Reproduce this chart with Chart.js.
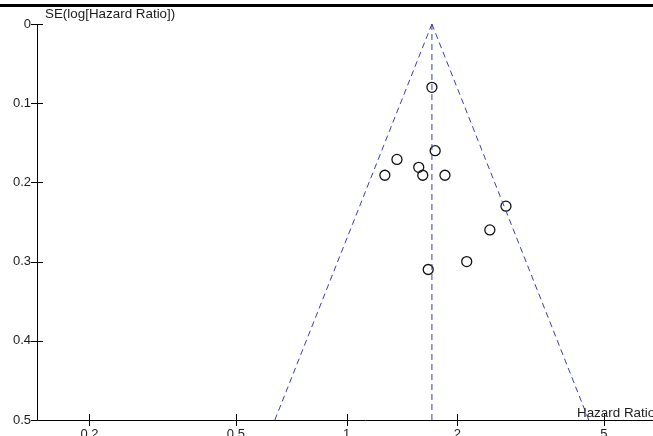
<!DOCTYPE html>
<html>
<head>
<meta charset="utf-8">
<script src="https://cdn.jsdelivr.net/npm/chart.js@4.4.1/dist/chart.umd.min.js"></script>
<style>
  html, body { margin: 0; padding: 0; background: #fff; overflow: hidden; }
  #wrap { position: absolute; left: 0; top: 0; width: 700px; height: 445px; }
</style>
</head>
<body>
<div id="wrap"><canvas id="funnel" width="700" height="445"></canvas></div>
<script>
// Individual studies: hazard ratio and standard error of log(HR)
const studyHR = [1.705, 1.74, 1.37, 1.27, 1.57, 1.61, 1.85, 2.71, 2.45, 2.12, 1.666];
const studySE = [0.080, 0.160, 0.171, 0.191, 0.181, 0.191, 0.191, 0.230, 0.260, 0.300, 0.310];

// Pooled estimate and 95% pseudo-confidence limits at the bottom of the funnel
const pooledHR = 1.705;
const funnelSE = [0, 0.5];
const funnelLowerHR = [1.705, 0.638];
const funnelUpperHR = [1.705, 4.55];

// Axis ticks
const xTickValues = [0.2, 0.5, 1, 2, 5];
const xTickLabels = ['0.2', '0.5', '1', '2', '5'];
const yTickValues = [0, 0.1, 0.2, 0.3, 0.4, 0.5];
const yTickLabels = ['0', '0.1', '0.2', '0.3', '0.4', '0.5'];

const FONT = 'Liberation Sans, Arial, sans-serif';
const TEXT = '#1c1c1c';
const DASH_BLUE = '#3c3cb0';

const studyPoints = studyHR.map((hr, i) => ({ x: hr, y: studySE[i] }));
const lowerLine = funnelSE.map((se, i) => ({ x: funnelLowerHR[i], y: se }));
const upperLine = funnelSE.map((se, i) => ({ x: funnelUpperHR[i], y: se }));
const pooledLine = funnelSE.map(se => ({ x: pooledHR, y: se }));

const decor = {
  id: 'decor',
  afterDraw(chart) {
    const ctx = chart.ctx;
    const xs = chart.scales.x, ys = chart.scales.y;
    const area = chart.chartArea;
    ctx.save();
    // heavy rule across the top
    ctx.fillStyle = '#000';
    ctx.fillRect(0, 4, chart.width, 3);

    // tick marks crossing both axes
    ctx.strokeStyle = '#000';
    ctx.lineWidth = 1;
    ctx.beginPath();
    xTickValues.forEach(v => {
      const px = Math.round(xs.getPixelForValue(v)) + 0.5;
      ctx.moveTo(px, area.bottom - 6);
      ctx.lineTo(px, area.bottom + 6);
    });
    yTickValues.forEach(v => {
      const py = Math.round(ys.getPixelForValue(v)) + 0.5;
      ctx.moveTo(area.left - 6, py);
      ctx.lineTo(area.left + 6, py);
    });
    ctx.stroke();

    // axis titles
    ctx.fillStyle = TEXT;
    ctx.font = '13.4px ' + FONT;
    ctx.textBaseline = 'alphabetic';
    ctx.textAlign = 'left';
    ctx.fillText('SE(log[Hazard Ratio])', area.left + 8, 18);
    ctx.fillText('Hazard Ratio', 577, area.bottom - 3);
    ctx.restore();
  }
};

const dashed = {
  showLine: true,
  borderColor: DASH_BLUE,
  borderWidth: 1,
  borderDash: [6, 4],
  pointRadius: 0,
  fill: false
};

new Chart(document.getElementById('funnel'), {
  type: 'scatter',
  data: {
    datasets: [
      Object.assign({ label: 'Pooled', data: pooledLine }, dashed),
      Object.assign({ label: 'Lower limit', data: lowerLine }, dashed),
      Object.assign({ label: 'Upper limit', data: upperLine }, dashed),
      {
        label: 'Studies',
        data: studyPoints,
        showLine: false,
        pointStyle: 'circle',
        pointRadius: 5,
        pointBorderWidth: 1.3,
        pointBorderColor: '#111',
        pointBackgroundColor: 'rgba(0,0,0,0)'
      }
    ]
  },
  options: {
    responsive: false,
    devicePixelRatio: 1,
    animation: false,
    layout: { padding: { top: 24, left: 0, right: 0, bottom: 0 } },
    plugins: { legend: { display: false }, tooltip: { enabled: false } },
    scales: {
      x: {
        type: 'logarithmic',
        bounds: 'data',
        min: 0.1440,
        max: 8.775,
        grid: { display: false, drawTicks: false },
        border: { display: true, color: '#000', width: 1 },
        ticks: {
          color: TEXT,
          font: { family: FONT, size: 13 },
          padding: 7,
          maxRotation: 0,
          autoSkip: false,
          callback: (v) => {
            const i = xTickValues.findIndex(t => Math.abs(t - v) < 1e-9);
            return i >= 0 ? xTickLabels[i] : '';
          }
        },
        afterBuildTicks: (s) => { s.ticks = xTickValues.map(v => ({ value: v })); },
        afterFit: (s) => { s.height = 25; }
      },
      y: {
        type: 'linear',
        reverse: true,
        min: 0,
        max: 0.5,
        grid: { display: false, drawTicks: false },
        border: { display: true, color: '#000', width: 1 },
        ticks: {
          color: TEXT,
          font: { family: FONT, size: 13 },
          padding: 6,
          autoSkip: false,
          callback: (v) => {
            const i = yTickValues.findIndex(t => Math.abs(t - v) < 1e-9);
            return i >= 0 ? yTickLabels[i] : '';
          }
        },
        afterBuildTicks: (s) => { s.ticks = yTickValues.map(v => ({ value: v })); },
        afterFit: (s) => { s.width = 37; }
      }
    }
  },
  plugins: [decor]
});
</script>
</body>
</html>
